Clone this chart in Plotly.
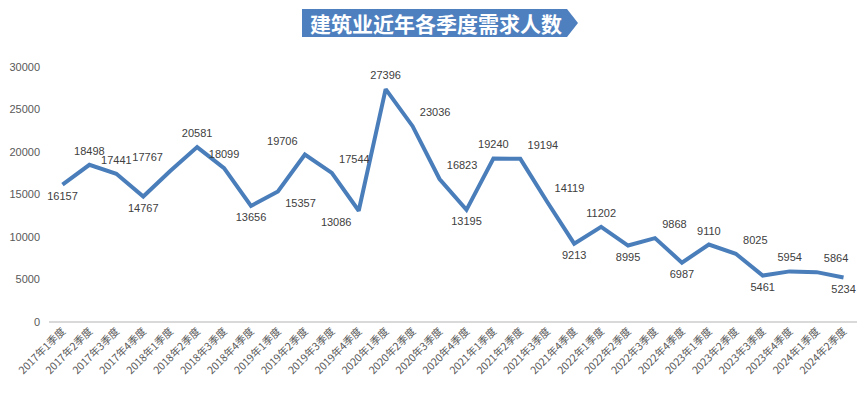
import plotly.graph_objects as go

categories = [f"{y}年{q}季度" for y in range(2017, 2025) for q in range(1, 5)][:30]
values = [16157, 18498, 17441, 14767, 17767, 20581, 18099, 13656, 15357, 19706,
          17544, 13086, 27396, 23036, 16823, 13195, 19240, 19194, 14119, 9213,
          11202, 8995, 9868, 6987, 9110, 8025, 5461, 5954, 5864, 5234]
y_ticks = [0, 5000, 10000, 15000, 20000, 25000, 30000]
title_text = "建筑业近年各季度需求人数"

label_pos = ["bottom center", "top center", "top center", "bottom center", "top left",
             "top center", "top center", "bottom center", "bottom right", "top left",
             "top right", "bottom left", "top center", "top right", "top right",
             "bottom center", "top center", "top right", "top right", "bottom center",
             "top center", "bottom center", "top right", "bottom center", "top center",
             "top right", "bottom center", "top center", "top right", "bottom center"]

W, H = 867, 399
ML, MR, MT, MB = 49, 10, 67, 77

fig = go.Figure()
fig.add_trace(go.Scatter(
    x=categories, y=values, mode="lines+markers+text",
    line=dict(color="#4a7ebb", width=4),
    marker=dict(size=10, opacity=0, color="#4a7ebb"),
    text=[str(v) for v in values], textposition=label_pos,
    textfont=dict(family="Liberation Sans, Arial, sans-serif", size=11, color="#404040"),
    cliponaxis=False, hoverinfo="x+y",
))

def px2paper(x, y):
    return (x - ML) / (W - ML - MR), 1 - (y - MT) / (H - MT - MB)

pts = [(302, 9), (567, 9), (578, 23), (567, 37), (302, 37)]
path = "M " + " L ".join(f"{px2paper(x, y)[0]},{px2paper(x, y)[1]}" for x, y in pts) + " Z"
fig.add_shape(type="path", path=path, xref="paper", yref="paper",
              fillcolor="#4e7fbf", line=dict(width=0), layer="above")
tx, ty = px2paper(436, 23)
fig.add_annotation(x=tx, y=ty, xref="paper", yref="paper", text=f"<b>{title_text}</b>",
                   showarrow=False, font=dict(family="Noto Sans CJK SC", size=21, color="white"),
                   xanchor="center", yanchor="middle")

fig.update_layout(
    width=W, height=H, margin=dict(l=ML, r=MR, t=MT, b=MB),
    plot_bgcolor="white", paper_bgcolor="white", showlegend=False,
    xaxis=dict(type="category", tickangle=-45, showgrid=False, showline=False, zeroline=False,
               tickfont=dict(family="Noto Sans CJK SC", size=10.5, color="#595959"),
               ticks="", range=[-0.5, len(categories) - 0.5], automargin=False),
    yaxis=dict(range=[0, 30000], tickvals=y_ticks, ticktext=[str(v) for v in y_ticks],
               showgrid=False, zeroline=True,
               zerolinecolor="#d9d9d9", zerolinewidth=1.5, showline=False, ticks="",
               tickfont=dict(family="Liberation Sans, Arial, sans-serif", size=11, color="#595959"),
               ticklabelstandoff=8, automargin=False),
)

fig.write_html("out.html", config={"displayModeBar": False},
               post_script="document.body.style.margin='0';document.body.style.overflow='hidden';")
